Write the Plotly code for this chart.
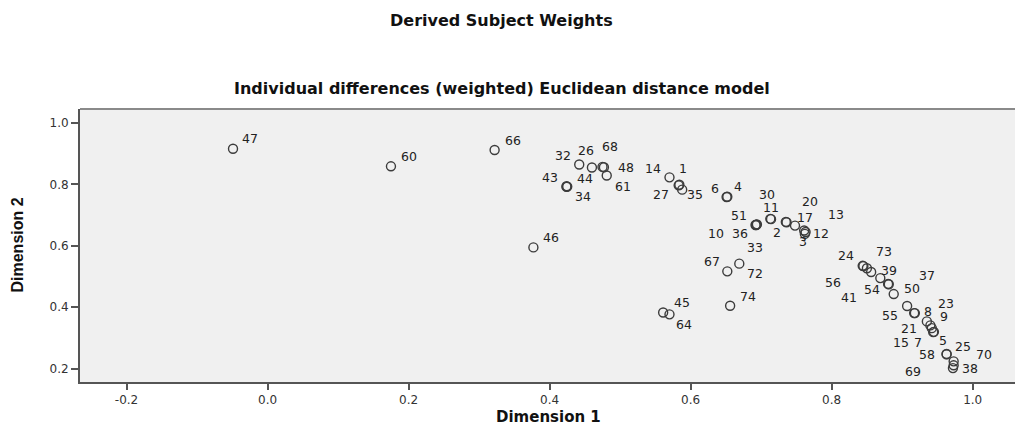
import plotly.graph_objects as go

# ---- data ----
labels = ["47", "60", "66", "32", "26", "68", "48", "61", "43", "44", "34", "46",
          "14", "1", "27", "35", "6", "4", "51", "10", "36", "33", "11", "2",
          "30", "17", "20", "13", "12", "3", "67", "72", "74", "45", "64", "24",
          "56", "73", "39", "41", "54", "37", "50", "55", "23", "8", "9", "21",
          "15", "7", "5", "58", "25", "70", "38", "69"]

dimension1 = [-0.049, 0.175, 0.322, 0.442, 0.460, 0.475, 0.477, 0.481, 0.424, 0.425, 0.424, 0.377,
              0.570, 0.584, 0.583, 0.588, 0.651, 0.652, 0.693, 0.692, 0.694, 0.693, 0.713, 0.714,
              0.735, 0.736, 0.748, 0.761, 0.763, 0.762, 0.652, 0.669, 0.656, 0.561, 0.570, 0.844,
              0.845, 0.850, 0.856, 0.869, 0.880, 0.881, 0.888, 0.907, 0.917, 0.918, 0.935, 0.940,
              0.942, 0.944, 0.945, 0.963, 0.963, 0.973, 0.973, 0.972]

dimension2 = [0.916, 0.859, 0.912, 0.865, 0.855, 0.857, 0.856, 0.829, 0.794, 0.793, 0.792, 0.595,
              0.823, 0.799, 0.797, 0.783, 0.759, 0.760, 0.669, 0.668, 0.670, 0.668, 0.688, 0.687,
              0.678, 0.677, 0.666, 0.650, 0.645, 0.639, 0.517, 0.542, 0.405, 0.383, 0.377, 0.535,
              0.534, 0.527, 0.515, 0.495, 0.476, 0.475, 0.443, 0.404, 0.381, 0.381, 0.354, 0.341,
              0.332, 0.319, 0.320, 0.248, 0.247, 0.224, 0.211, 0.202]

x_ticks = [-0.2, 0.0, 0.2, 0.4, 0.6, 0.8, 1.0]
x_tick_text = ["-0.2", "0.0", "0.2", "0.4", "0.6", "0.8", "1.0"]
y_ticks = [0.2, 0.4, 0.6, 0.8, 1.0]
y_tick_text = ["0.2", "0.4", "0.6", "0.8", "1.0"]

# ---- label placement (pixel offsets of each label from its point; style only) ----
label_dx = [17, 18, 18, -16, -6, 7, 22, 16, -17, 17.5, 16, 18,
            -16, 3.5, -17.5, 12.5, -11.5, 11, -17.5, -39.5, -16.5, -1, 1, 5.5,
            -19, 18.5, 14.5, 31.5, 15.5, -2, -15.5, 15.5, 17.5, 19, 14.5, -17,
            -30.5, 17.5, 17.5, -31.5, -16.5, 38, 18.5, -17.5, 32, 13, 17, -21,
            -31, -15, 9, -20, 16.5, 30.5, 16.5, -39.5]
label_dy = [10, 10, 9.5, 9, 17, 20, 0, -10.5, 8.5, 8.5, -10, 9.5,
            8.5, 16, -9.5, -5, 9, 10, 9, -8.5, -9.5, -23, 11.5, -13,
            27, 5, 24, 16.5, -1, -7.5, 9.5, -10, 9.5, 10, -10, 10,
            -16, 17, 1.5, -19, -6, 9, 6, -9, 10, 2, 4.5, -3.5,
            -14, -10.5, -9, -1, 7.5, 6.5, -3, -3.5]

fig = go.Figure()
fig.add_trace(go.Scatter(
    x=dimension1, y=dimension2, mode="markers",
    marker=dict(symbol="circle-open", size=9, color="#3c3c3c", line=dict(width=1.4, color="#3c3c3c")),
    hoverinfo="text", text=labels, showlegend=False,
))

annotations = []
for lab, xv, yv, dx, dy in zip(labels, dimension1, dimension2, label_dx, label_dy):
    annotations.append(dict(
        x=xv, y=yv, xref="x", yref="y", text=lab, showarrow=False,
        xshift=dx, yshift=dy, xanchor="center", yanchor="middle",
        font=dict(family="DejaVu Sans, Arial, sans-serif", size=12.5, color="#222222"),
    ))

# titles
annotations.append(dict(
    text="<b>Derived Subject Weights</b>", xref="paper", yref="paper",
    x=0.4513, y=1.0, yshift=89, xanchor="center", yanchor="middle", showarrow=False,
    font=dict(family="DejaVu Sans, Arial, sans-serif", size=16, color="#111111"),
))
annotations.append(dict(
    text="<b>Individual differences (weighted) Euclidean distance model</b>", xref="paper", yref="paper",
    x=0.4513, y=1.0, yshift=21, xanchor="center", yanchor="middle", showarrow=False,
    font=dict(family="DejaVu Sans, Arial, sans-serif", size=16, color="#111111"),
))
# axis titles
annotations.append(dict(
    text="<b>Dimension 1</b>", xref="paper", yref="paper",
    x=0.5016, y=0.0, yshift=-35, xanchor="center", yanchor="middle", showarrow=False,
    font=dict(family="DejaVu Sans, Arial, sans-serif", size=15, color="#111111"),
))
annotations.append(dict(
    text="<b>Dimension 2</b>", xref="paper", yref="paper", textangle=-90,
    x=0.0, xshift=-63, y=0.5, xanchor="center", yanchor="middle", showarrow=False,
    font=dict(family="Liberation Sans Narrow, Arial Narrow, Liberation Sans, sans-serif", size=16, color="#111111"),
))

fig.update_layout(
    width=1016, height=426,
    margin=dict(l=80, r=1, t=109, b=44),
    paper_bgcolor="white", plot_bgcolor="#F0F0F0",
    annotations=annotations,
    shapes=[dict(type="line", xref="paper", yref="paper", x0=0, x1=1, y0=1, y1=1,
                 line=dict(color="#8a8a8a", width=2))],
)
fig.update_xaxes(
    range=[-0.266, 1.060], tickvals=x_ticks, ticktext=x_tick_text,
    showgrid=False, zeroline=False, showline=True, linecolor="#555555", linewidth=1.5,
    ticks="outside", ticklen=6, tickwidth=2, tickcolor="#555555",
    tickfont=dict(family="DejaVu Sans, Arial, sans-serif", size=12, color="#333333"),
)
fig.update_yaxes(
    range=[0.1567, 1.0456], tickvals=y_ticks, ticktext=y_tick_text,
    showgrid=False, zeroline=False, showline=True, linecolor="#555555", linewidth=2,
    ticks="outside", ticklen=7, tickwidth=1.5, tickcolor="#555555",
    tickfont=dict(family="DejaVu Sans, Arial, sans-serif", size=12, color="#333333"),
)

fig.write_html("out.html")
